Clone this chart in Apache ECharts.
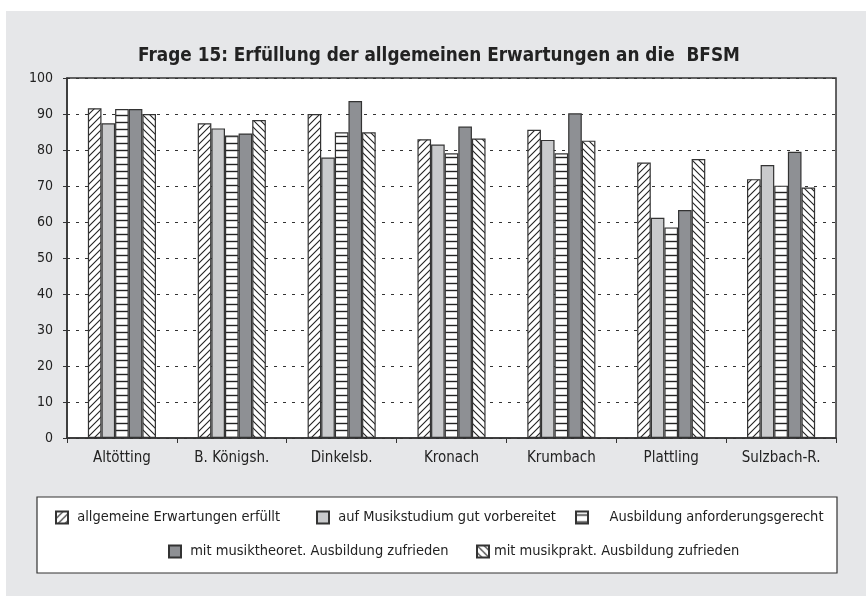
<!DOCTYPE html>
<html>
<head>
<meta charset="utf-8">
<script src="https://cdn.jsdelivr.net/npm/echarts@6/dist/echarts.min.js"></script>
<style>
html,body{margin:0;padding:0;background:#fff;}
#chart{width:866px;height:596px;}
</style>
</head>
<body>
<div id="chart"></div>
<script>
var title = 'Frage 15: Erfüllung der allgemeinen Erwartungen an die  BFSM';
var categories = ['Altötting', 'B. Königsh.', 'Dinkelsb.', 'Kronach', 'Krumbach', 'Plattling', 'Sulzbach-R.'];
var seriesNames = [
  'allgemeine Erwartungen erfüllt',
  'auf Musikstudium gut vorbereitet',
  'Ausbildung anforderungsgerecht',
  'mit musiktheoret. Ausbildung zufrieden',
  'mit musikprakt. Ausbildung zufrieden'
];
var allgemein = [91.6, 87.4, 90.0, 83.0, 85.6, 76.5, 71.9];
var vorbereitet = [87.4, 86.0, 77.9, 81.5, 82.8, 61.2, 75.8];
var anforderung = [91.4, 84.0, 84.9, 79.1, 79.1, 58.5, 70.1];
var theoret = [91.4, 84.6, 93.6, 86.5, 90.2, 63.3, 79.5];
var prakt = [90.0, 88.3, 84.9, 83.2, 82.6, 77.5, 69.6];
var yTicks = [0, 10, 20, 30, 40, 50, 60, 70, 80, 90, 100];

var FONT = '"DejaVu Sans Condensed", "Liberation Sans Narrow", sans-serif';

function hatch(kind) {
  var c = document.createElement('canvas');
  var s = 7;
  c.width = s; c.height = s;
  var g = c.getContext('2d');
  g.fillStyle = '#fff';
  g.fillRect(0, 0, s, s);
  g.strokeStyle = '#222';
  g.lineWidth = 1.1;
  g.beginPath();
  if (kind === '/') {
    g.moveTo(-1, s + 1); g.lineTo(s + 1, -1);
    g.moveTo(-1, 1); g.lineTo(1, -1);
    g.moveTo(s - 1, s + 1); g.lineTo(s + 1, s - 1);
  } else if (kind === '\\') {
    g.moveTo(-1, -1); g.lineTo(s + 1, s + 1);
    g.moveTo(s - 1, -1); g.lineTo(s + 1, 1);
    g.moveTo(-1, s - 1); g.lineTo(1, s + 1);
  } else {
    g.lineWidth = 1.4;
    g.moveTo(0, 3.5); g.lineTo(s, 3.5);
  }
  g.stroke();
  return { image: c, repeat: 'repeat' };
}

var fills = [hatch('/'), '#c9cacc', hatch('h'), '#8e9094', hatch('\\')];
var dataSets = [allgemein, vorbereitet, anforderung, theoret, prakt];

var series = seriesNames.map(function (n, i) {
  return {
    name: n,
    type: 'bar',
    data: dataSets[i],
    barGap: '0%',
    barCategoryGap: '38%',
    itemStyle: { color: fills[i], borderColor: '#333', borderWidth: 1.2 },
    emphasis: { disabled: true },
    animation: false
  };
});

var legendPos = [
  { left: 55, top: 510 },
  { left: 316, top: 510 },
  { left: 575, top: 510 },
  { left: 168, top: 544 },
  { left: 476, top: 544 }
];
var legends = seriesNames.map(function (n, i) {
  return {
    data: [{ name: n, icon: 'rect' }],
    left: legendPos[i].left,
    top: legendPos[i].top,
    padding: 0,
    itemWidth: 12,
    itemHeight: 12,
    itemGap: 0,
    selectedMode: false,
    formatter: i === 2 ? '    {name}' : (i === 4 ? '{name}' : ' {name}'),
    textStyle: { fontFamily: FONT, fontSize: 14.5, color: '#222' }
  };
});

var chart = echarts.init(document.getElementById('chart'), null, { renderer: 'canvas' });
chart.setOption({
  animation: false,
  title: {
    text: title,
    left: 434,
    textAlign: 'center',
    top: 42,
    textStyle: { fontFamily: FONT, fontSize: 18.8, fontWeight: 'bold', color: '#222' }
  },
  graphic: [
    { type: 'rect', z: -100, shape: { x: 6, y: 11, width: 860, height: 585 }, style: { fill: '#e6e7e9' } },
    { type: 'rect', z: -50, shape: { x: 37, y: 497, width: 800, height: 76 }, style: { fill: '#fff', stroke: '#333', lineWidth: 1.2 } }
  ],
  legend: legends,
  grid: {
    left: 67, right: 30, top: 78, bottom: 158,
    show: true, backgroundColor: '#fff', borderColor: '#333', borderWidth: 1.5
  },
  xAxis: {
    type: 'category',
    data: categories,
    axisLine: { lineStyle: { color: '#333', width: 1.5 } },
    axisTick: { show: true, length: 5, lineStyle: { color: '#333' } },
    axisLabel: { fontFamily: FONT, fontSize: 15, color: '#222', margin: 13, interval: 0 }
  },
  yAxis: {
    type: 'value',
    min: yTicks[0], max: yTicks[yTicks.length - 1], interval: 10,
    axisLine: { show: true, lineStyle: { color: '#333', width: 1.5 } },
    axisTick: { show: true, length: 4, lineStyle: { color: '#333' } },
    axisLabel: { fontFamily: FONT, fontSize: 14, color: '#222', margin: 14 },
    splitLine: { show: true, lineStyle: { color: '#333', width: 1, type: [3, 6] } }
  },
  series: series
});
</script>
</body>
</html>
